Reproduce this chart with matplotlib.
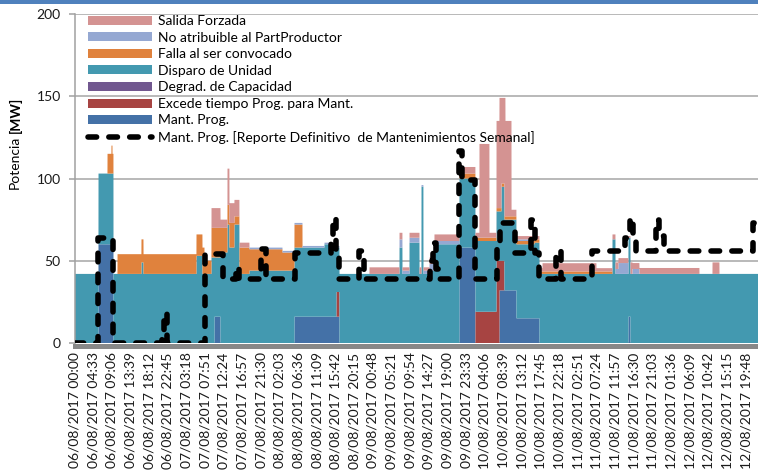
import matplotlib.pyplot as plt
import numpy as np
from matplotlib.patches import Patch, Rectangle
from matplotlib.lines import Line2D

plt.rcParams['font.family'] = ['Lato', 'DejaVu Sans']

# --- --- --- ---
# --- DATA ---
# --- --- --- ---
# step changes: hours since 06/08/2017 00:00 -> MW (value holds until next change)
mant_h = [0, 5.85, 9.51, 34.15, 35.61, 53.66, 64.63, 93.90, 97.80, 103.66, 107.80, 113.41, 135.12, 135.61]
mant_v = [0, 60, 0, 16, 0, 16, 0, 58, 0, 32, 15, 0, 16, 0]

excede_h = [0, 63.90, 64.63, 97.80, 102.93, 103.66, 104.88]
excede_v = [0, 15, 0, 19, 50, 18, 0]

degrad_h = [0]
degrad_v = [0]

disparo_h = [0, 5.85, 9.51, 16.34, 16.83, 29.76, 31.22, 33.41, 34.15, 35.61, 37.32, 37.80, 39.02, 40.24,
             42.68, 53.66, 60.98, 62.19, 63.90, 64.63, 79.27, 80.00, 81.71, 84.15, 84.63, 85.12, 86.59,
             87.80, 93.90, 97.80, 102.93, 104.15, 104.88, 107.80, 112.20, 113.41, 131.22, 131.95,
             135.12, 135.61]
disparo_v = [42, 43, 42, 49, 42, 53, 42, 52, 36, 55, 72, 58, 72, 42,
             44, 42, 44, 42, 27, 42, 58, 42, 61, 42, 95, 42, 44,
             60, 42, 43, 30, 45, 43, 45, 46, 42, 63, 42,
             48, 42]

falla_h = [0, 8.05, 9.02, 9.27, 9.51, 10.49, 16.34, 16.83, 29.76, 31.22, 31.71, 33.41, 35.61, 37.32,
           37.80, 39.02, 40.24, 42.68, 50.73, 53.66, 55.61, 93.90, 97.80, 113.41, 131.22]
falla_v = [0, 12, 17, 12, 0, 12, 14, 12, 13, 16, 8, 18, 15, 12,
           15, 5, 16, 13, 11, 14, 0, 3, 2, 1.5, 0]

noatrib_h = [0, 42.68, 64.63, 79.27, 80.00, 81.71, 84.15, 84.63, 85.12, 86.59, 87.80, 93.90, 107.80,
             112.20, 131.95, 132.68, 135.12, 136.10, 137.80]
noatrib_v = [0, 1, 0, 5, 2, 3, 0, 1, 2, 4, 2, 0, 1,
             0, 3, 6.6, 0, 3, 0]

salida_h = [0, 33.41, 35.61, 37.32, 37.80, 39.02, 40.24, 42.68, 71.95, 80.00, 81.71, 84.15, 84.63,
            85.12, 86.59, 97.80, 98.78, 101.22, 102.93, 103.66, 104.15, 104.88, 105.12, 106.60, 107.80,
            114.15, 127.32, 131.22, 131.95, 132.68, 135.12, 135.61, 136.10, 152.44, 155.61, 157.32]
salida_v = [0, 12, 5, 22, 12, 10, 3, 0, 4, 2, 3, 4, 0,
            2, 4, 3, 57, 3, 53, 67, 52, 72, 58, 4, 2,
            5, 2, 3, 4, 3, 1, 7, 3.6, 0, 7, 0]

# Mant. Prog. [Reporte Definitivo de Mantenimientos Semanal]
reporte_h = [0, 5.85, 9.51, 21.46, 21.95, 22.68, 31.95, 36.34, 39.27, 40.00, 45.37, 46.59,
             53.66, 62.44, 63.17, 63.90, 64.63, 69.51, 70.49, 86.59, 87.32, 88.29, 89.02,
             93.90, 94.63, 97.80, 102.93, 103.90, 107.56, 111.46, 112.20, 113.41, 117.56, 118.78,
             126.34, 134.15, 135.37, 136.10, 137.07, 141.71, 142.68, 143.90, 165.37, 168]
reporte_v = [0, 64, 0, 8, 18, 0, 54, 39, 46, 39, 57, 39,
             55, 63, 76, 52, 39, 56, 39, 50, 61, 45, 39,
             117, 99, 39, 58, 73, 55, 75, 55, 39, 56, 39,
             56, 64, 76, 64, 56, 75, 65, 56, 73, 73]

tick_labels = ['06/08/2017 00:00', '06/08/2017 04:33', '06/08/2017 09:06', '06/08/2017 13:39',
               '06/08/2017 18:12', '06/08/2017 22:45', '07/08/2017 03:18', '07/08/2017 07:51',
               '07/08/2017 12:24', '07/08/2017 16:57', '07/08/2017 21:30', '08/08/2017 02:03',
               '08/08/2017 06:36', '08/08/2017 11:09', '08/08/2017 15:42', '08/08/2017 20:15',
               '09/08/2017 00:48', '09/08/2017 05:21', '09/08/2017 09:54', '09/08/2017 14:27',
               '09/08/2017 19:00', '09/08/2017 23:33', '10/08/2017 04:06', '10/08/2017 08:39',
               '10/08/2017 13:12', '10/08/2017 17:45', '10/08/2017 22:18', '11/08/2017 02:51',
               '11/08/2017 07:24', '11/08/2017 11:57', '11/08/2017 16:30', '11/08/2017 21:03',
               '12/08/2017 01:36', '12/08/2017 06:09', '12/08/2017 10:42', '12/08/2017 15:15',
               '12/08/2017 19:48']
tick_step_h = 273 / 60  # one label every 4:33

labels = ['Mant. Prog.', 'Excede tiempo Prog. para Mant.', 'Degrad. de Capacidad',
          'Disparo de Unidad', 'Falla al ser convocado', 'No atribuible al PartProductor',
          'Salida Forzada']
colors = ['#4471A7', '#A74442', '#71578F', '#4399B0', '#E0823D', '#95A8D2', '#D49392']
reporte_label = 'Mant. Prog. [Reporte Definitivo  de Mantenimientos Semanal]'

# --- --- --- --- --- ---
# --- PROCESS THE DATA ---
# --- --- --- --- --- ---
t = np.arange(0, 168.001, 0.02)


def steps(h, v):
    idx = np.searchsorted(np.array(h), t, side='right') - 1
    return np.array(v, dtype=float)[idx]


layers = [steps(mant_h, mant_v), steps(excede_h, excede_v), steps(degrad_h, degrad_v),
          steps(disparo_h, disparo_v), steps(falla_h, falla_v), steps(noatrib_h, noatrib_v),
          steps(salida_h, salida_v)]

# --- --- --- --- --- --- --
# --- START THE PLOTTING ---
# --- --- --- --- --- --- --
W, H = 758, 470
fig = plt.figure(figsize=(W / 100, H / 100), dpi=100)
ax = fig.add_axes([74.5 / W, 127 / H, 688.8 / W, 329 / H])

ax.stackplot(t, *layers, colors=colors, linewidth=0)
ax.plot(reporte_h, reporte_v, drawstyle='steps-post', color='black', lw=4,
        dashes=(1.55, 2.2), dash_capstyle='round', dash_joinstyle='round', zorder=4)

ax.set_xlim(0, 168)
ax.set_ylim(0, 200)
ax.set_yticks([0, 50, 100, 150, 200])
ax.set_xticks(np.arange(len(tick_labels)) * tick_step_h)
ax.set_xticklabels(tick_labels)
ax.tick_params(axis='x', length=0, pad=5, labelrotation=90, labelsize=10, labelcolor='#1a1a1a')
ax.tick_params(axis='y', length=4, width=1.1, color='#A0A0A0', pad=6, labelsize=10, labelcolor='#1a1a1a')

ax.set_axisbelow(True)
ax.grid(axis='y', color='#A6A6A6', linewidth=1.1)
for s in ['top', 'right']:
    ax.spines[s].set_visible(False)
ax.spines['left'].set_color('#A0A0A0')
ax.spines['left'].set_linewidth(1.1)
ax.spines['bottom'].set_color('#888888')
ax.spines['bottom'].set_linewidth(3.6)
ax.spines['bottom'].set_position(('outward', 1.8))

# legend (reverse stacking order, line last)
handles = [Patch(facecolor=c, label=l) for c, l in zip(colors[::-1], labels[::-1])]
handles.append(Line2D([], [], color='black', lw=4, dashes=(1.55, 2.2), dash_capstyle='round',
                      label=reporte_label))
ax.legend(handles=handles, loc='upper left', bbox_to_anchor=(88 / W, 1 - 15 / H),
          bbox_transform=fig.transFigure, frameon=False, fontsize=10, handlelength=4.6,
          handleheight=0.62, handletextpad=0.45, labelspacing=0.33, borderpad=0, borderaxespad=0)

# y label with bold unit
t1 = fig.text(15 / W, 1 - 189 / H, 'Potencia', rotation=90, ha='center', va='bottom', fontsize=10)
fig.canvas.draw()
bb = t1.get_window_extent()
fig.text(15 / W, (bb.y1 + 3) / H, '[MW]', rotation=90, ha='center', va='bottom', fontsize=10,
         fontweight='bold')

# frame strip at the top
fig.add_artist(Rectangle((0, 1 - 4 / H), 1, 4 / H, transform=fig.transFigure, color='#4F81BD', lw=0))

plt.savefig('out.png', dpi=100)
